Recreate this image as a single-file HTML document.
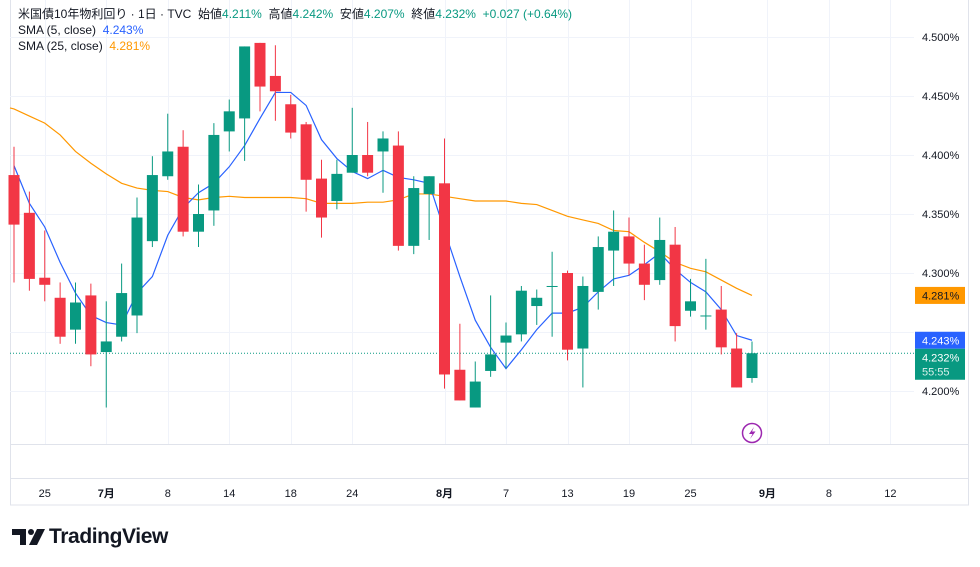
<!DOCTYPE html>
<html><head><meta charset="utf-8">
<style>
body{margin:0;background:#fff;width:980px;height:567px;overflow:hidden;font-family:"Liberation Sans","Noto Sans CJK JP",sans-serif;}
svg{position:absolute;left:0;top:0}
.hdr{position:absolute;left:18px;font-size:12px;color:#131722;white-space:nowrap}
.g{color:#089981}
</style></head><body>
<svg id="chart" width="980" height="567"></svg>
<div class="hdr" style="top:5px">米国債10年物利回り · 1日 · TVC&nbsp; 始値<span class="g">4.211%</span>&nbsp; 高値<span class="g">4.242%</span>&nbsp; 安値<span class="g">4.207%</span>&nbsp; 終値<span class="g">4.232%</span>&nbsp; <span class="g">+0.027 (+0.64%)</span></div>
<div class="hdr" style="top:23px">SMA (5, close)&nbsp; <span style="color:#2962ff">4.243%</span></div>
<div class="hdr" style="top:39px">SMA (25, close)&nbsp; <span style="color:#ff9800">4.281%</span></div>
<svg width="36" height="20" style="left:12px;top:529px">
<path d="M0 0 H14 V16 H8 V6 H0 Z" fill="#131722"/>
<circle cx="19" cy="3" r="3" fill="#131722"/>
<path d="M25 0 H33 L25 16 H17 Z" fill="#131722"/>
</svg>
<div style="position:absolute;left:49px;top:525px;font-size:21px;font-weight:bold;color:#131722;letter-spacing:-0.4px">TradingView</div>
<script>
const opens=[4.383,4.351,4.296,4.279,4.252,4.281,4.233,4.246,4.264,4.327,4.382,4.407,4.335,4.353,4.420,4.431,4.495,4.467,4.443,4.426,4.380,4.361,4.385,4.400,4.403,4.408,4.323,4.367,4.376,4.218,4.186,4.217,4.241,4.248,4.272,4.289,4.300,4.236,4.284,4.319,4.331,4.308,4.294,4.324,4.268,4.264,4.269,4.236,4.211];
const highs=[4.407,4.369,4.336,4.292,4.292,4.291,4.276,4.308,4.364,4.399,4.435,4.421,4.375,4.427,4.447,4.492,4.495,4.493,4.451,4.428,4.396,4.396,4.440,4.428,4.420,4.420,4.382,4.382,4.414,4.257,4.225,4.281,4.258,4.289,4.286,4.318,4.302,4.297,4.331,4.353,4.347,4.324,4.347,4.339,4.295,4.312,4.289,4.249,4.242];
const lows=[4.292,4.285,4.276,4.240,4.240,4.221,4.186,4.242,4.249,4.322,4.379,4.331,4.322,4.340,4.403,4.395,4.437,4.429,4.414,4.352,4.330,4.354,4.385,4.382,4.368,4.319,4.316,4.328,4.202,4.192,4.186,4.212,4.219,4.242,4.256,4.246,4.226,4.203,4.269,4.289,4.298,4.277,4.290,4.242,4.263,4.252,4.231,4.203,4.207];
const closes=[4.341,4.295,4.290,4.246,4.275,4.231,4.242,4.283,4.347,4.383,4.403,4.335,4.350,4.417,4.437,4.492,4.458,4.454,4.419,4.379,4.347,4.384,4.400,4.385,4.414,4.323,4.372,4.382,4.214,4.192,4.208,4.231,4.247,4.285,4.279,4.289,4.235,4.289,4.322,4.335,4.308,4.290,4.328,4.255,4.276,4.264,4.237,4.203,4.232];
const sma5=[4.391,4.359,4.339,4.309,4.283,4.264,4.258,4.256,4.283,4.297,4.332,4.355,4.368,4.376,4.390,4.408,4.431,4.453,4.453,4.442,4.413,4.397,4.386,4.380,4.387,4.381,4.379,4.376,4.336,4.297,4.260,4.237,4.219,4.235,4.252,4.266,4.266,4.271,4.284,4.295,4.298,4.307,4.317,4.303,4.292,4.284,4.269,4.247,4.243];
const sma25=[4.439,4.433,4.427,4.417,4.403,4.393,4.384,4.376,4.372,4.370,4.369,4.364,4.362,4.364,4.365,4.364,4.364,4.364,4.364,4.363,4.359,4.359,4.359,4.360,4.360,4.362,4.367,4.367,4.365,4.363,4.361,4.361,4.361,4.359,4.358,4.353,4.348,4.345,4.342,4.336,4.335,4.326,4.318,4.309,4.304,4.301,4.294,4.287,4.281];
const priceTicks=[4.5,4.45,4.4,4.35,4.3,4.25,4.2];
const priceTickLabels=["4.500%","4.450%","4.400%","4.350%","4.300%","","4.200%"];
const dateIdx=[2,6,10,14,18,22,28,32,36,40,44,49,53,57];
const dateLabels=["25","7月","8","14","18","24","8月","7","13","19","25","9月","8","12"];
const lastClose=4.232, lastSma5=4.243, lastSma25=4.281;

const NS="http://www.w3.org/2000/svg";
const svg=document.getElementById('chart');
const X=i=>14+i*15.375;
const Y=v=>37+(4.5-v)*1180;
function mk(tag,attrs,parent){const e=document.createElementNS(NS,tag);for(const k in attrs)e.setAttribute(k,attrs[k]);(parent||svg).appendChild(e);return e;}

let e=mk('rect',{x:10.5,y:-1,width:958,height:506,fill:'none',stroke:'#e0e3eb'});


e=mk('line',{x1:10,x2:969,y1:444.5,y2:444.5,stroke:'#e0e3eb'});


e=mk('line',{x1:10,x2:969,y1:478.5,y2:478.5,stroke:'#e0e3eb'});



priceTicks.forEach((v,i)=>{
  const g=mk('line',{x1:10,x2:914,y1:Y(v)+0.5,y2:Y(v)+0.5,stroke:'#f0f3fa'});
  
  
  if(priceTickLabels[i]){
    const t=mk('text',{x:922,y:Y(v)+4,'font-size':'11','fill':'#131722','font-family':'Liberation Sans, sans-serif'});
    t.textContent=priceTickLabels[i];
    
    
  }
});
dateIdx.forEach((d,i)=>{
  const g=mk('line',{x1:Math.round(X(d))+0.5,x2:Math.round(X(d))+0.5,y1:0,y2:444,stroke:'#f0f3fa'});
  
  
  const t=mk('text',{x:X(d),y:497,'font-size':'11','fill':'#131722','text-anchor':'middle','font-weight':dateLabels[i].includes('月')?'bold':'normal','font-family':'Liberation Sans, Noto Sans CJK JP, sans-serif'});
  t.textContent=dateLabels[i];
  
  
});

e=mk('line',{x1:10,x2:914,y1:Y(lastClose),y2:Y(lastClose),stroke:'#089981','stroke-dasharray':'1 2'});



function line(arr,color,name,extendLeft){
  let pts=arr.map((v,i)=>X(i)+','+Y(v));
  if(extendLeft) pts.unshift('10,'+(Y(arr[0])-1));
  const p=mk('polyline',{points:pts.join(' '),fill:'none',stroke:color,'stroke-width':'1.2'});
  
  
}
line(sma25,'#ff9800','sma25-line',true);
line(sma5,'#2962ff','sma5-line',false);

opens.forEach((o,i)=>{
  const c=closes[i],up=c>=o,col=up?'#089981':'#f23645',x=X(i);
  const w=mk('line',{x1:x,x2:x,y1:Y(highs[i]),y2:Y(lows[i]),stroke:col,'stroke-width':'1'});
  
  
  const top=Y(Math.max(o,c)),h=Math.max(1,Y(Math.min(o,c))-top);
  const b=mk('rect',{x:x-5.5,y:top,width:11,height:h,fill:col});
  
  
});

function badge(v,col,txt,h,name){
  const y=Y(v)-8.5;
  const r=mk('rect',{x:915,y:y,width:50,height:h,fill:col});
  
  
  const t=mk('text',{x:922,y:y+12.5,'font-size':'11',fill:'#fff','font-family':'Liberation Sans, sans-serif'});
  t.textContent=txt;
  
  
  return t;
}
let t25=badge(lastSma25,'#ff9800','4.281%',17,'sma25-price-badge');t25.setAttribute('fill','#131722');
badge(lastSma5,'#2962ff','4.243%',17,'sma5-price-badge');
const gr=mk('rect',{x:915,y:Y(lastSma5)+8.5,width:50,height:31,fill:'#089981'});


let lt=mk('text',{x:922,y:Y(lastSma5)+21,'font-size':'11',fill:'#fff','font-family':'Liberation Sans, sans-serif'});lt.textContent='4.232%';


lt=mk('text',{x:922,y:Y(lastSma5)+35,'font-size':'11',fill:'#d8f0ea','font-family':'Liberation Sans, sans-serif'});lt.textContent='55:55';



const ic=mk('g',{});


mk('circle',{cx:752,cy:433,r:9.5,fill:'#fff',stroke:'#9c27b0','stroke-width':'1.5'},ic);
mk('path',{d:'M754 427 L749 434 L752.5 434 L750 439 L755.5 431.5 L752 431.5 Z',fill:'#9c27b0'},ic);
</script>
</body></html>
